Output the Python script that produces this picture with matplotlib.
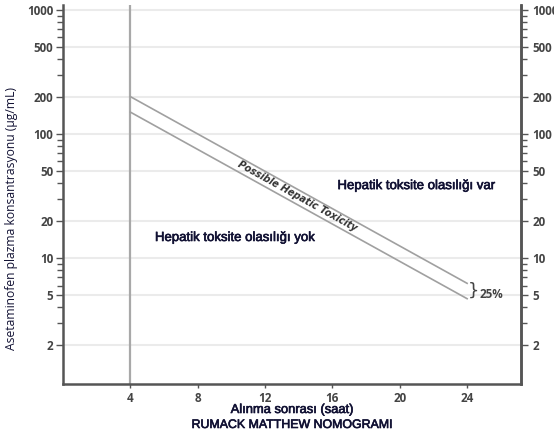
import numpy as np
import matplotlib
matplotlib.use("Agg")
import matplotlib.pyplot as plt
import matplotlib.patheffects as pe
from matplotlib.ticker import FixedLocator, NullFormatter, FixedFormatter

# ---- data ----
hours = [4, 24]
upper_line = [200, 6.25]     # µg/mL, treatment line
lower_line = [150, 4.7]      # µg/mL, 25% lower line
x_ticks = [4, 8, 12, 16, 20, 24]
y_major = [2, 5, 10, 20, 50, 100, 200, 500, 1000]
y_minor = [3, 4, 6, 7, 8, 9, 30, 40, 60, 70, 80, 90, 300, 400, 600, 700, 800, 900]
y_labels = [str(v) for v in y_major]
band_label = "Possible Hepatic Toxicity"
label_var = "Hepatik toksite olasılığı var"
label_yok = "Hepatik toksite olasılığı yok"
xlabel = "Alınma sonrası (saat)"
ylabel = "Asetaminofen plazma konsantrasyonu (µg/mL)"
title = "RUMACK MATTHEW NOMOGRAMI"

W, H = 554, 436
fig = plt.figure(figsize=(W / 100, H / 100), dpi=100)
ax = fig.add_axes([63 / W, (H - 384) / H, (521 - 63) / W, (384 - 5) / H])

ax.set_yscale("log")
ax.set_xlim(0, 27.2)
ax.set_ylim(0.965, 1095)

spine_c = "#555555"
tick_c = "#444444"
ax.spines["top"].set_visible(False)
for s in ["left", "right", "bottom"]:
    ax.spines[s].set_color(spine_c)
    ax.spines[s].set_linewidth(1.8)

# grid
for v in y_major:
    ax.axhline(v, color="#ebebeb", lw=1.5, zorder=0)

# vertical line at 4 h
ax.axvline(hours[0], color="#a8a8a8", lw=1.6, zorder=1)

# nomogram lines
ax.plot(hours, upper_line, color="#a0a0a0", lw=1.2, zorder=2)
ax.plot(hours, lower_line, color="#a0a0a0", lw=1.2, zorder=2)

tick_font = dict(family="Open Sans", weight="bold", size=8.4)

ax.set_xticks(x_ticks)
ax.set_xticklabels([str(v) for v in x_ticks], color=tick_c, fontdict=tick_font)
ax.tick_params(axis="x", length=3, width=1, color=spine_c, pad=3)

ax.yaxis.set_major_locator(FixedLocator(y_major))
ax.yaxis.set_major_formatter(FixedFormatter(y_labels))
ax.yaxis.set_minor_locator(FixedLocator(y_minor))
ax.yaxis.set_minor_formatter(NullFormatter())
for lab in ax.get_yticklabels():
    lab.set_fontproperties(matplotlib.font_manager.FontProperties(**tick_font))
    lab.set_color(tick_c)
ax.tick_params(axis="y", which="major", length=5, width=1, color=spine_c, pad=2)
ax.tick_params(axis="y", which="minor", length=4, width=1, color=spine_c)

# right axis
ax2 = ax.twinx()
ax2.set_yscale("log")
ax2.set_ylim(ax.get_ylim())
ax2.spines["top"].set_visible(False)
ax2.spines["left"].set_visible(False)
ax2.spines["bottom"].set_visible(False)
ax2.spines["right"].set_color(spine_c)
ax2.spines["right"].set_linewidth(1.8)
ax2.yaxis.set_major_locator(FixedLocator(y_major))
ax2.yaxis.set_major_formatter(FixedFormatter(y_labels))
ax2.yaxis.set_minor_locator(FixedLocator(y_minor))
ax2.yaxis.set_minor_formatter(NullFormatter())
for lab in ax2.get_yticklabels():
    lab.set_fontproperties(matplotlib.font_manager.FontProperties(**tick_font))
    lab.set_color(tick_c)
ax2.tick_params(axis="y", which="major", length=5, width=1, color=spine_c, pad=3)
ax2.tick_params(axis="y", which="minor", length=4, width=1, color=spine_c)

# band label, rotated along the lines
p0 = ax.transData.transform((hours[0], upper_line[0]))
p1 = ax.transData.transform((hours[1], upper_line[1]))
angle = np.degrees(np.arctan2(p1[1] - p0[1], p1[0] - p0[0]))
xm = 13.9
frac = (xm - hours[0]) / (hours[1] - hours[0])
yu = upper_line[0] * (upper_line[1] / upper_line[0]) ** frac
yl = lower_line[0] * (lower_line[1] / lower_line[0]) ** frac
ym = np.sqrt(yu * yl)
ax.text(xm, ym, band_label, rotation=angle, rotation_mode="anchor",
        ha="center", va="center", fontsize=6.9, fontweight="bold",
        fontstyle="italic", family="DejaVu Sans", color="#333333", zorder=3)

txt_c = "#111133"
thick = [pe.withStroke(linewidth=0.45, foreground=txt_c)]
ax.text(16.3, 38, label_var, ha="left", va="center", fontsize=9.5,
        family="Liberation Sans", color=txt_c, path_effects=thick)
ax.text(5.46, 14.5, label_yok, ha="left", va="center", fontsize=9.5,
        family="Liberation Sans", color=txt_c, path_effects=thick)

# 25% brace
yb = np.sqrt(upper_line[1] * lower_line[1])
ax.text(24.05, yb, "}", ha="left", va="center", fontsize=13,
        family="DejaVu Sans", color="#444444")
ax.text(24.75, yb * 0.93, "25%", ha="left", va="center", fontsize=8.4,
        family="Open Sans", fontweight="bold", color="#444444")

# labels
fig.text(292 / W, 1 - 410 / H, xlabel, ha="center", va="center",
         fontsize=9.3, family="Liberation Sans", color=txt_c, path_effects=thick)
fig.text(292 / W, 1 - 425 / H, title, ha="center", va="center",
         fontsize=8.9, family="Liberation Sans", color=txt_c, path_effects=thick)
fig.text(12 / W, 1 - 218 / H, ylabel, rotation=90, ha="center", va="center",
         fontsize=8.7, family="Open Sans", color=txt_c)

fig.savefig("out.png", dpi=100)
